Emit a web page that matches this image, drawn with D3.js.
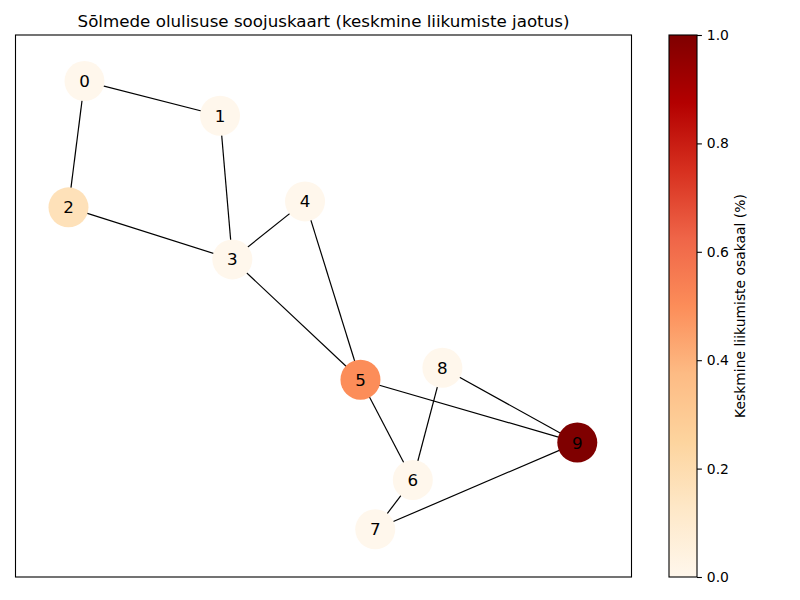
<!DOCTYPE html>
<html>
<head>
<meta charset="utf-8">
<script src="https://cdn.jsdelivr.net/npm/d3@7"></script>
<style>
  body { margin: 0; background: #fff; }
  text { font-family: "DejaVu Sans", sans-serif; }
</style>
</head>
<body>
<div id="chart"></div>
<script>
// graph data
const nodeIds = [0, 1, 2, 3, 4, 5, 6, 7, 8, 9];
// layout positions (0..1 in both directions, y upward)
const nodeX = [0.112, 0.332, 0.086, 0.352, 0.470, 0.560, 0.645, 0.584, 0.693, 0.912];
const nodeY = [0.915, 0.851, 0.682, 0.586, 0.693, 0.364, 0.179, 0.088, 0.386, 0.248];
// average movement share per node
const nodeValue = [0.0, 0.0, 0.17, 0.0, 0.0, 0.5, 0.0, 0.0, 0.0, 1.0];
const edgeFrom = [0, 0, 1, 2, 3, 3, 4, 5, 5, 8, 8, 6, 7];
const edgeTo   = [1, 2, 3, 3, 4, 5, 5, 6, 9, 9, 6, 7, 9];
const cbarTicks = [0.0, 0.2, 0.4, 0.6, 0.8, 1.0];

const width = 800;
const height = 600;

const ax = { left: 15.5, right: 631.5, top: 35, bottom: 577 };
const cb = { left: 669, right: 697, top: 35, bottom: 577 };

const svg = d3.select("#chart")
  .append("svg")
  .attr("width", width)
  .attr("height", height);

// matplotlib OrRd: linear between the 9 brewer colours
const orrd = d3.schemeOrRd[9];
const color = d3.scaleLinear()
  .domain(orrd.map((c, i) => i / (orrd.length - 1)))
  .range(orrd)
  .interpolate(d3.interpolateRgb);

const xScale = d3.scaleLinear().domain([0, 1]).range([ax.left, ax.right]);
const yScale = d3.scaleLinear().domain([0, 1]).range([ax.bottom, ax.top]);

// title
svg.append("text")
  .attr("x", (ax.left + ax.right) / 2)
  .attr("y", 27)
  .attr("text-anchor", "middle")
  .style("font-size", "16.7px")
  .text("Sōlmede olulisuse soojuskaart (keskmine liikumiste jaotus)");

// frame
svg.append("rect")
  .attr("x", ax.left)
  .attr("y", ax.top)
  .attr("width", ax.right - ax.left)
  .attr("height", ax.bottom - ax.top)
  .attr("fill", "none")
  .attr("stroke", "#000")
  .attr("stroke-width", 1.1);

// edges
svg.append("g")
  .selectAll("line")
  .data(edgeFrom.map((s, i) => [s, edgeTo[i]]))
  .enter()
  .append("line")
  .attr("x1", d => xScale(nodeX[d[0]]))
  .attr("y1", d => yScale(nodeY[d[0]]))
  .attr("x2", d => xScale(nodeX[d[1]]))
  .attr("y2", d => yScale(nodeY[d[1]]))
  .attr("stroke", "#000")
  .attr("stroke-width", 1.2);

// nodes
const nodes = svg.append("g")
  .selectAll("g")
  .data(nodeIds)
  .enter()
  .append("g")
  .attr("transform", (d, i) => `translate(${xScale(nodeX[i])},${yScale(nodeY[i])})`);

nodes.append("circle")
  .attr("r", 20)
  .attr("fill", (d, i) => color(nodeValue[i]));

nodes.append("text")
  .attr("text-anchor", "middle")
  .attr("dy", "0.36em")
  .style("font-size", "16.7px")
  .text(d => d);

// colorbar
const defs = svg.append("defs");
const grad = defs.append("linearGradient")
  .attr("id", "cbar")
  .attr("x1", 0).attr("y1", 1)
  .attr("x2", 0).attr("y2", 0);
grad.selectAll("stop")
  .data(orrd)
  .enter()
  .append("stop")
  .attr("offset", (d, i) => i / (orrd.length - 1))
  .attr("stop-color", d => d);

svg.append("rect")
  .attr("x", cb.left)
  .attr("y", cb.top)
  .attr("width", cb.right - cb.left)
  .attr("height", cb.bottom - cb.top)
  .attr("fill", "url(#cbar)")
  .attr("stroke", "#000")
  .attr("stroke-width", 1.1);

const cScale = d3.scaleLinear().domain([0, 1]).range([cb.bottom, cb.top]);
const cAxis = d3.axisRight(cScale)
  .tickValues(cbarTicks)
  .tickFormat(d3.format(".1f"))
  .tickSize(4.9)
  .tickPadding(4.9);

const cg = svg.append("g")
  .attr("transform", `translate(${cb.right},0)`)
  .call(cAxis);
cg.select(".domain").remove();
cg.selectAll("line").attr("stroke", "#000").attr("stroke-width", 1.1);
cg.selectAll("text")
  .style("font-size", "13.9px")
  .style("font-family", "DejaVu Sans, sans-serif")
  .attr("fill", "#000");

svg.append("text")
  .attr("transform", `translate(745,${(cb.top + cb.bottom) / 2}) rotate(-90)`)
  .attr("text-anchor", "middle")
  .style("font-size", "13.9px")
  .text("Keskmine liikumiste osakaal (%)");
</script>
</body>
</html>
